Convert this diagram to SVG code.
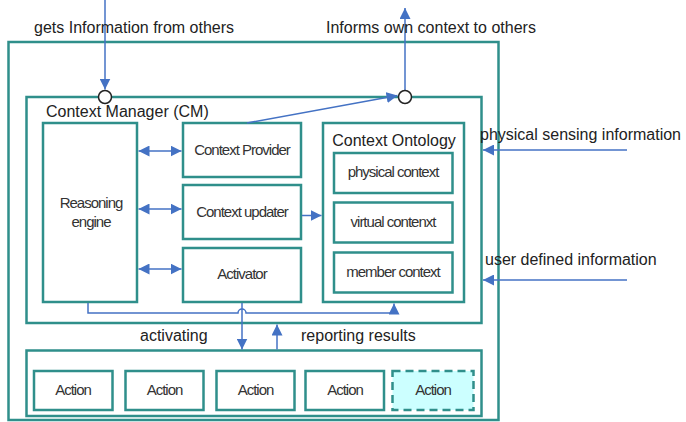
<svg xmlns="http://www.w3.org/2000/svg" width="686" height="422" viewBox="0 0 686 422">
  <style>
    .box { fill: #ffffff; stroke: #2f8f8b; stroke-width: 2.5; }
    .dash { fill: #ccffff; stroke: #2f8f8b; stroke-width: 2.5; stroke-dasharray: 8 5; }
    .lbl { font-family: "Liberation Sans", Arial, sans-serif; font-size: 16px; fill: #222222; }
    .small { font-family: "Liberation Sans", Arial, sans-serif; font-size: 15px; letter-spacing: -1px; fill: #333333; text-anchor: middle; }
    .wire { fill: none; stroke: #4472c4; stroke-width: 1.5; }
    .port { fill: #ffffff; stroke: #222222; stroke-width: 1.5; }
  </style>
  <defs>
    <marker id="headL" viewBox="0 0 10 10" refX="10" refY="5" markerWidth="11" markerHeight="11" markerUnits="userSpaceOnUse" orient="auto-start-reverse">
      <path d="M0,0 L10,5 L0,10 z" fill="#4472c4"/>
    </marker>
  </defs>
  <rect width="686" height="422" fill="#ffffff"/>

  <!-- outer agent frame -->
  <g id="agent">
    <rect class="box" x="8.5" y="42" width="490" height="378"/>
  </g>

  <!-- context manager container -->
  <g id="context-manager">
    <rect class="box" x="26.5" y="97" width="455" height="226"/>
    <text class="lbl" x="46" y="117">Context Manager (CM)</text>
  </g>

  <g id="reasoning-engine">
    <rect class="box" x="43" y="123" width="94" height="179"/>
    <text class="small" x="91" y="208">Reasoning</text>
    <text class="small" x="91" y="227">engine</text>
  </g>

  <g id="context-provider">
    <rect class="box" x="183" y="123" width="118" height="54"/>
    <text class="small" x="242" y="155">Context Provider</text>
  </g>

  <g id="context-updater">
    <rect class="box" x="183" y="185" width="118" height="54"/>
    <text class="small" x="242" y="217">Context updater</text>
  </g>

  <g id="activator">
    <rect class="box" x="183" y="248" width="118" height="54"/>
    <text class="small" x="242" y="279">Activator</text>
  </g>

  <g id="context-ontology">
    <rect class="box" x="323" y="123" width="141" height="179"/>
    <text class="lbl" x="394" y="146" text-anchor="middle">Context Ontology</text>
  </g>

  <g id="physical-context">
    <rect class="box" x="334" y="153" width="118.5" height="40"/>
    <text class="small" x="393" y="177">physical context</text>
  </g>

  <g id="virtual-context">
    <rect class="box" x="334" y="202.5" width="118.5" height="40"/>
    <text class="small" x="393" y="227">virtual contenxt</text>
  </g>

  <g id="member-context">
    <rect class="box" x="334" y="252.5" width="118.5" height="40"/>
    <text class="small" x="393" y="277">member context</text>
  </g>

  <!-- action layer -->
  <g id="action-layer">
    <rect class="box" x="26.5" y="350.5" width="455" height="65.5"/>
  </g>
  <g id="action-1">
    <rect class="box" x="34" y="371" width="78.5" height="39"/>
    <text class="small" x="73" y="395">Action</text>
  </g>
  <g id="action-2">
    <rect class="box" x="125.5" y="371" width="78" height="39"/>
    <text class="small" x="164.5" y="395">Action</text>
  </g>
  <g id="action-3">
    <rect class="box" x="216.5" y="371" width="78" height="39"/>
    <text class="small" x="255.5" y="395">Action</text>
  </g>
  <g id="action-4">
    <rect class="box" x="305.5" y="371" width="78.5" height="39"/>
    <text class="small" x="345" y="395">Action</text>
  </g>
  <g id="action-5">
    <rect class="dash" x="392.5" y="371" width="81" height="39"/>
    <text class="small" x="433" y="395">Action</text>
  </g>

  <!-- connectors -->
  <g id="connectors">
    <!-- incoming / outgoing information -->
    <line class="wire" x1="105" y1="0" x2="105" y2="89.5" marker-end="url(#headL)"/>
    <line class="wire" x1="405" y1="90" x2="405" y2="8" marker-end="url(#headL)"/>
    <line class="wire" x1="247" y1="123" x2="397.5" y2="95.5" marker-end="url(#headL)"/>

    <!-- reasoning engine exchanges -->
    <line class="wire" x1="138.5" y1="151" x2="181.5" y2="151" marker-start="url(#headL)" marker-end="url(#headL)"/>
    <line class="wire" x1="138.5" y1="209" x2="181.5" y2="209" marker-start="url(#headL)" marker-end="url(#headL)"/>
    <line class="wire" x1="138.5" y1="269" x2="181.5" y2="269" marker-start="url(#headL)" marker-end="url(#headL)"/>

    <!-- updater to ontology -->
    <line class="wire" x1="302" y1="215.5" x2="321.5" y2="215.5" marker-end="url(#headL)"/>

    <!-- reasoning engine to ontology, hopping over activator line -->
    <path class="wire" d="M88,303 V313 H238 A4,4 0 0 1 246,313 H394 V303.5" marker-end="url(#headL)"/>

    <!-- activating / reporting results -->
    <line class="wire" x1="242" y1="303" x2="242" y2="349.5" marker-end="url(#headL)"/>
    <line class="wire" x1="277" y1="349.5" x2="277" y2="324.5" marker-end="url(#headL)"/>

    <!-- external inputs -->
    <line class="wire" x1="627" y1="150" x2="483" y2="150" marker-end="url(#headL)"/>
    <line class="wire" x1="627" y1="280" x2="483" y2="280" marker-end="url(#headL)"/>
  </g>

  <!-- ports on the context manager -->
  <g id="port-in">
    <circle class="port" cx="105" cy="97" r="6.5"/>
  </g>
  <g id="port-out">
    <circle class="port" cx="405" cy="97" r="6.5"/>
  </g>

  <!-- free labels -->
  <g id="labels">
    <text class="lbl" x="34" y="33">gets Information from others</text>
    <text class="lbl" x="326" y="33">Informs own context to others</text>
    <text class="lbl" x="480" y="140">physical sensing information</text>
    <text class="lbl" x="485" y="265">user defined information</text>
    <text class="lbl" x="140" y="341">activating</text>
    <text class="lbl" x="301" y="341">reporting results</text>
  </g>
</svg>
